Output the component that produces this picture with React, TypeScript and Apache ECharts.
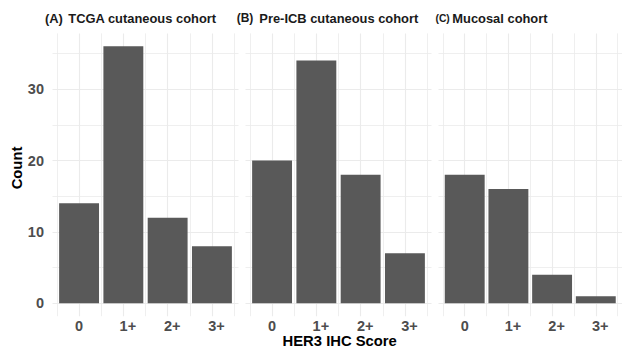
import React, { useEffect, useRef } from 'react';
import * as echarts from 'echarts';

const categories = ['0', '1+', '2+', '3+'];
const xPositions = [1, 2, 3, 4];
const panelTags = ['(A)', '(B)', '(C)'];
const panelTitles = ['TCGA cutaneous cohort', 'Pre-ICB cutaneous cohort', 'Mucosal cohort'];
const tcgaCounts = [14, 36, 12, 8];
const preIcbCounts = [20, 34, 18, 7];
const mucosalCounts = [18, 16, 4, 1];
const yMajorTicks = [0, 10, 20, 30];
const yMinorTicks = [5, 15, 25, 35];
const xMajorGrid = [1, 2, 3, 4];
const xMinorGrid = [0.5, 1.5, 2.5, 3.5, 4.5];

const FONT = "'Liberation Sans', Arial, Helvetica, sans-serif";

export default function App() {
  const ref = useRef<HTMLDivElement>(null);
  useEffect(() => {
    if (!ref.current) return;
    const chart = echarts.init(ref.current, undefined, { renderer: 'svg' });
    const panels = [tcgaCounts, preIcbCounts, mucosalCounts];
    const lefts = [52.5, 245.5, 438.5];
    const gridTop = 33.4;
    const gridH = 282.8;
    const gridW = 186;

    const grid = lefts.map((l) => ({ left: l, top: gridTop, width: gridW, height: gridH }));
    const labelStyle = { fontSize: 14.5, fontWeight: 'bold' as const, color: '#4d4d4d', fontFamily: FONT };
    const xAxis = lefts.map((_, i) => ({
      type: 'value',
      gridIndex: i,
      min: 0.4,
      max: 4.6,
      axisLine: { show: false },
      axisTick: { show: false, customValues: xPositions },
      splitLine: { show: false },
      axisLabel: {
        ...labelStyle,
        margin: 2,
        customValues: xPositions,
        formatter: (v: number) => {
          const idx = Math.round(v) - 1;
          return idx === 0 ? categories[0] : `{p|${categories[idx]}}`;
        },
        rich: { p: { ...labelStyle, padding: [0, 0, 0, 9] } },
      },
    }));
    const yAxis = lefts.map((_, i) => ({
      type: 'value',
      gridIndex: i,
      min: -1.8,
      max: 37.8,
      axisLine: { show: false },
      axisTick: { show: false, customValues: yMajorTicks },
      splitLine: { show: false },
      axisLabel: {
        show: i === 0,
        ...labelStyle,
        margin: 8.5,
        customValues: yMajorTicks,
      },
    }));

    const gridLine = (w: number) => ({ color: '#ebebeb', width: w, type: 'solid' as const });
    const series = panels.map((vals, i) => ({
      type: 'bar',
      xAxisIndex: i,
      yAxisIndex: i,
      z: 3,
      barWidth: 39.9,
      itemStyle: { color: '#595959' },
      data: vals.map((v, k) => [xPositions[k], v]),
      markLine: {
        z: 1,
        silent: true,
        symbol: 'none',
        label: { show: false },
        emphasis: { disabled: true },
        data: [
          ...yMajorTicks.map((v) => ({ yAxis: v, lineStyle: gridLine(1.1) })),
          ...yMinorTicks.map((v) => ({ yAxis: v, lineStyle: gridLine(0.8) })),
          ...xMajorGrid.map((v) => ({ xAxis: v, lineStyle: gridLine(1.1) })),
          ...xMinorGrid.map((v) => ({ xAxis: v, lineStyle: gridLine(0.8) })),
        ],
      },
    }));

    const tagX = [45, 236.7, 435.5];
    const tagSize = [12.9, 12, 10.3];
    const tagRaise = [0, 1.5, 1.5];
    const mainX = [68.3, 259.3, 452.3];
    const baseline = 23.5;
    const titleSize = 12.9;
    const graphic: any[] = [];
    lefts.forEach((_, i) => {
      graphic.push({
        type: 'text',
        x: tagX[i],
        y: baseline - tagRaise[i] - 0.35 * tagSize[i],
        style: {
          text: panelTags[i],
          fontSize: tagSize[i],
          fontWeight: 'bold',
          fontFamily: FONT,
          fill: '#1a1a1a',
          align: 'left',
          verticalAlign: 'middle',
        },
      });
      graphic.push({
        type: 'text',
        x: mainX[i],
        y: baseline - 0.35 * titleSize,
        style: {
          text: panelTitles[i],
          fontSize: titleSize,
          fontWeight: 'bold',
          fontFamily: FONT,
          fill: '#1a1a1a',
          align: 'left',
          verticalAlign: 'middle',
        },
      });
    });
    graphic.push({
      type: 'text',
      x: 339.7,
      y: 341.3,
      style: {
        text: 'HER3 IHC Score',
        fontSize: 14.8,
        fontWeight: 'bold',
        fontFamily: FONT,
        fill: '#000',
        align: 'center',
        verticalAlign: 'middle',
      },
    });
    graphic.push({
      type: 'text',
      x: 17.2,
      y: 168,
      rotation: Math.PI / 2,
      style: {
        text: 'Count',
        fontSize: 14.8,
        fontWeight: 'bold',
        fontFamily: FONT,
        fill: '#000',
        align: 'center',
        verticalAlign: 'middle',
      },
    });

    chart.setOption({
      animation: false,
      backgroundColor: '#ffffff',
      grid,
      xAxis,
      yAxis,
      series,
      graphic,
    } as any);
    return () => chart.dispose();
  }, []);
  return <div ref={ref} style={{ position: 'absolute', left: 0, top: 0, width: 622, height: 351 }} />;
}
